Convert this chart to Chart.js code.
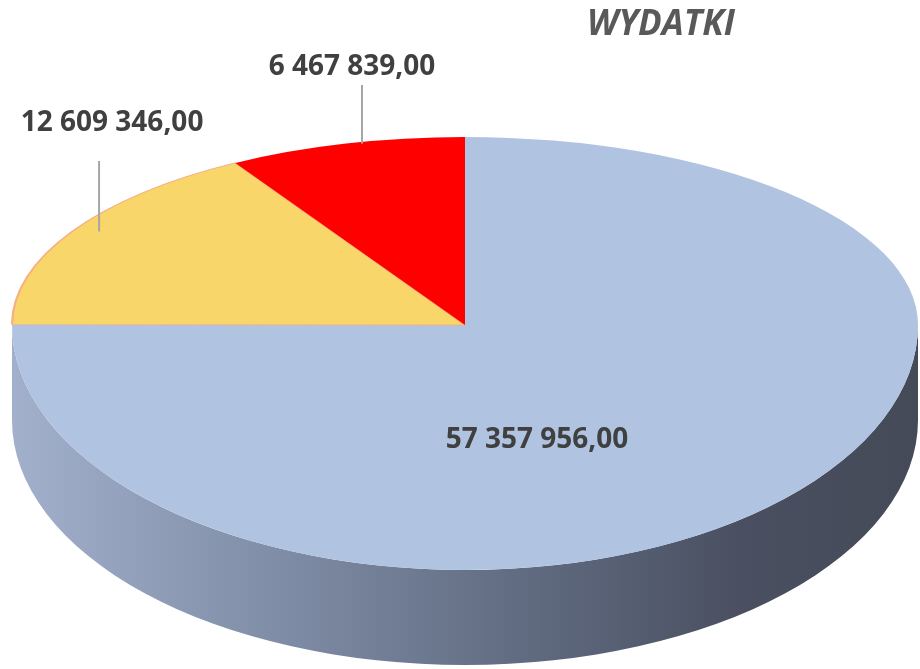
<!DOCTYPE html>
<html>
<head>
<meta charset="utf-8">
<title>WYDATKI</title>
<script src="https://cdn.jsdelivr.net/npm/chart.js@4.4.1/dist/chart.umd.min.js"></script>
<style>
	body { margin: 0; background: #fff; }
	#wrap { width: 920px; height: 669px; }
</style>
</head>
<body>
<div id="wrap"><canvas id="wydatki" width="920" height="669"></canvas></div>
<script>
	// data
	const categories = ['Pozycja 1', 'Pozycja 2', 'Pozycja 3'];
	const amounts = [57357956, 12609346, 6467839];
	const sliceColors = ['#b0c4e2', '#f9d669', '#ff0000'];
	const sliceBorders = ['#b0c4e2', '#f4b183', '#ff0000'];
	const sliceBorderWidths = [0, 1.5, 0];

	// layout of the tilted pie (centre, radii, wall height)
	const geom = { cx: 465, cy: 325, rx: 453, ryUp: 188, ryDown: 245, depth: 95 };
	// label placing: inside (fractions of radii) or outside with a leader line
	const labelPlace = [
		{ fx: 0.225, fy: 0.665 },
		{ shift: 27, top: 161, tx: 13, ty: 123 },
		{ shift: 16, top: 85, tx: -10, ty: 67 }
	];

	function plFormat(v) {
		let parts = v.toFixed(2).split('.');
		parts[0] = parts[0].replace(/\B(?=(\d{3})+(?!\d))/g, ' ');
		return parts[0] + ',' + parts[1];
	}

	//fake 3d pie plugin
	const pie3d = {
		id: 'pie3d',
		beforeDatasetsDraw: (chart) => {
			const ctx = chart.ctx;
			const meta = chart.getDatasetMeta(0);
			const R = meta.data[0].outerRadius, ax = meta.data[0].x, ay = meta.data[0].y;
			const g = geom;

			// side wall
			ctx.save();
			const grad = ctx.createLinearGradient(g.cx - g.rx, 0, g.cx + g.rx, 0);
			grad.addColorStop(0, '#a2b0cc');
			grad.addColorStop(0.3, '#7f8ca5');
			grad.addColorStop(0.55, '#626d83');
			grad.addColorStop(0.8, '#4a5061');
			grad.addColorStop(1, '#454a58');
			ctx.beginPath();
			ctx.moveTo(g.cx - g.rx, g.cy);
			ctx.lineTo(g.cx - g.rx, g.cy + g.depth);
			ctx.ellipse(g.cx, g.cy + g.depth, g.rx, g.ryDown, 0, Math.PI, 0, true);
			ctx.lineTo(g.cx + g.rx, g.cy);
			ctx.ellipse(g.cx, g.cy, g.rx, g.ryDown, 0, 0, Math.PI, false);
			ctx.closePath();
			ctx.fillStyle = grad;
			ctx.fill();
			ctx.restore();

			// top face, back half and front half squashed differently
			[[0, g.cy, g.ryUp], [g.cy, chart.height, g.ryDown]].forEach(([y0, y1, ry]) => {
				ctx.save();
				ctx.beginPath();
				ctx.rect(0, y0, chart.width, y1 - y0);
				ctx.clip();
				ctx.translate(g.cx, g.cy);
				ctx.scale(g.rx / R, ry / R);
				ctx.translate(-ax, -ay);
				meta.data.forEach(a => a.draw(ctx));
				ctx.restore();
			});
			return false;
		},
		afterDraw: (chart) => {
			const ctx = chart.ctx;
			const meta = chart.getDatasetMeta(0);
			const g = geom;
			ctx.save();
			ctx.font = 'bold 28px "Open Sans"';
			ctx.fillStyle = '#404040';
			ctx.textAlign = 'center';
			ctx.textBaseline = 'middle';
			meta.data.forEach((a, i) => {
				const mid = (a.startAngle + a.endAngle) / 2;
				const ry = Math.sin(mid) < 0 ? g.ryUp : g.ryDown;
				const p = labelPlace[i];
				const txt = plFormat(amounts[i]);
				if (p.fx !== undefined) {
					ctx.fillText(txt, g.cx + g.rx * p.fx * Math.cos(mid) / Math.cos(Math.PI / 4) * Math.SQRT1_2,
						g.cy + ry * p.fy * Math.sin(mid) / Math.sin(Math.PI / 4) * Math.SQRT1_2);
				} else {
					const ex = g.cx + g.rx * Math.cos(mid) + p.shift;
					const ey = g.cy + ry * Math.sin(mid);
					ctx.strokeStyle = '#a6a6a6';
					ctx.lineWidth = 2;
					ctx.beginPath();
					ctx.moveTo(ex, ey);
					ctx.lineTo(ex, p.top);
					ctx.stroke();
					ctx.fillText(txt, ex + p.tx, p.ty);
				}
			});
			ctx.restore();
		}
	};

	const ctx = document.getElementById('wydatki').getContext('2d');
	const Charts = new Chart(ctx, {
		type: 'pie',
		data: {
			labels: categories,
			datasets: [{
				data: amounts,
				backgroundColor: sliceColors,
				borderColor: sliceBorders,
				borderWidth: sliceBorderWidths
			}]
		},
		options: {
			responsive: false,
			animation: false,
			layout: { padding: { right: 185 } },
			plugins: {
				legend: { display: false },
				tooltip: { enabled: false },
				title: {
					display: true,
					text: 'WYDATKI',
					align: 'end',
					color: '#595959',
					font: { family: 'Open Sans', size: 35, weight: 'bold', style: 'italic' },
					padding: { top: 4, bottom: 10 }
				}
			}
		},
		plugins: [pie3d]
	});
</script>
</body>
</html>
